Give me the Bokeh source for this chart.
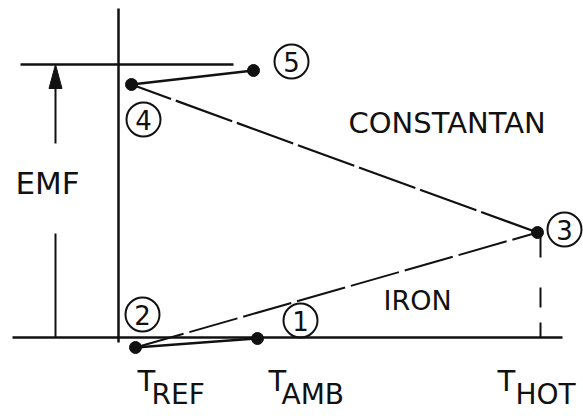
from bokeh.plotting import figure
from bokeh.models import Range1d
from bokeh.core.properties import value
from bokeh.embed import file_html
from bokeh.resources import INLINE

# ---- data (x: temperature position, y: EMF, arbitrary units; 0 = baseline) ----
pt_labels = ["1", "2", "3", "4", "5"]
pt_temp = [257, 135, 537, 131, 253]
pt_emf = [-1, -10, 105, 253, 267]
circ_x = [300, 142, 564, 143, 291]
circ_y = [17, 23, 108, 218, 276]
circ_num = ["1", "2", "3", "4", "5"]

temp_ticks_x = [137, 268, 497]
temp_main = ["T", "T", "T"]
temp_sub_x = [151, 281, 515]
temp_sub = ["REF", "AMB", "HOT"]

base_x = [12, 562]
axis_x = 118
axis_top = 329
axis_bottom = -5
emf_top = 273
emf_line_x = [20, 233]
emf_arrow_x = 55
emf_arrow_lower = [0, 104]
emf_arrow_upper = [194, 252]
hot_line_x = 540

FONT = value("DejaVu Sans")

p = figure(width=583, height=418, x_range=Range1d(0, 583), y_range=Range1d(-81, 337),
           output_backend="svg", toolbar_location=None, min_border=0,
           x_axis_type=None, y_axis_type=None)
p.grid.visible = False
p.outline_line_color = None
p.background_fill_color = "white"
p.border_fill_color = "white"

K = "#111111"
# baseline (T axis)
p.line(base_x, [0, 0], line_color=K, line_width=2.5)
# EMF axis (vertical)
p.line([axis_x, axis_x], [axis_bottom, axis_top], line_color=K, line_width=2.5)
# top EMF level line
p.line(emf_line_x, [emf_top, emf_top], line_color=K, line_width=2.5)
# EMF dimension arrow
p.line([emf_arrow_x, emf_arrow_x], emf_arrow_lower, line_color=K, line_width=2)
p.line([emf_arrow_x, emf_arrow_x], emf_arrow_upper, line_color=K, line_width=2)
p.patch([emf_arrow_x - 6.5, emf_arrow_x + 6.5, emf_arrow_x],
        [emf_arrow_upper[1] - 3, emf_arrow_upper[1] - 3, emf_top], color=K)
# dashed drop from hot junction
p.line([hot_line_x, hot_line_x], [pt_emf[2], 0], line_color=K, line_width=2,
       line_dash="25 30 20 15")

# thermocouple path
i1, i2, i3, i4, i5 = range(5)
p.line([pt_temp[i1], pt_temp[i2]], [pt_emf[i1], pt_emf[i2]], line_color=K, line_width=2.5)
p.line([pt_temp[i2], pt_temp[i3]], [pt_emf[i2], pt_emf[i3]], line_color=K, line_width=2,
       line_dash="50 6")
p.line([pt_temp[i3], pt_temp[i4]], [pt_emf[i3], pt_emf[i4]], line_color=K, line_width=2.2,
       line_dash="60 5")
p.line([pt_temp[i4], pt_temp[i5]], [pt_emf[i4], pt_emf[i5]], line_color=K, line_width=2.5)
p.scatter(pt_temp, pt_emf, size=12, color=K)

# circled numbers
p.scatter(circ_x, circ_y, size=34, marker="circle", fill_color=None, line_color=K, line_width=2)
p.text(circ_x, circ_y, text=circ_num, text_font=FONT, text_font_size="26px",
       text_align="center", text_baseline="middle", text_color=K)

# labels
p.text([15], [137], text=["EMF"], text_font=FONT, text_font_size="31px", text_color=K)
p.text([348], [198], text=["CONSTANTAN"], text_font=FONT, text_font_size="29px", text_color=K)
p.text([383], [22], text=["IRON"], text_font=FONT, text_font_size="27px", text_color=K)
p.text(temp_ticks_x, [-60, -60, -60], text=temp_main, text_font=FONT,
       text_font_size="29px", text_color=K)
p.text(temp_sub_x, [-73, -73, -73], text=temp_sub, text_font=FONT,
       text_font_size="28px", text_color=K)

open("out.html", "w").write(file_html(p, INLINE))
